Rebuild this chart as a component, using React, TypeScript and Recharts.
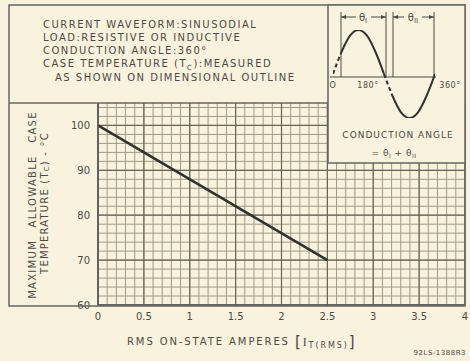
import React from 'react';
import { LineChart, Line, XAxis, YAxis, ReferenceLine } from 'recharts';

// main derating curve
const amps = [0, 2.5];
const caseTemp = [100, 70];

const xTicks = [0, 0.5, 1, 1.5, 2, 2.5, 3, 3.5, 4];
const xTickLabels = ['0', '0.5', '1', '1.5', '2', '2.5', '3', '3.5', '4'];
const yTicks = [60, 70, 80, 90, 100];

// graph paper lines
const minorX = Array.from({ length: 41 }, (_, i) => Math.round(i * 10) / 100);
const minorY = Array.from({ length: 23 }, (_, i) => 60 + i * 2);

// inset waveform sketch
const angles = [0, 15, 30, 60, 90, 120, 150, 180, 195, 210, 240, 270, 300, 330, 360];
const waveSolid = [null, null, 0.5, 0.87, 1, 0.87, 0.5, 0, null, -0.5, -0.87, -1, -0.87, -0.5, 0];
const waveDashed = [0, 0.26, 0.5, null, null, null, null, 0, -0.26, -0.5, null, null, null, null, null];

const data = amps.map((a, i) => ({ amps: a, temp: caseTemp[i] }));
const waveData = angles.map((a, i) => ({ angle: a, solid: waveSolid[i], dashed: waveDashed[i] }));

const PAPER = '#f9f2de';
const INK = '#4d4a42';
const FONT = '"DejaVu Sans", sans-serif';

export default function App() {
  const txt = { fontFamily: FONT, fontSize: 10, fill: INK, letterSpacing: 1.5 } as const;
  return (
    <div style={{ position: 'absolute', left: 0, top: 0, width: 470, height: 361, background: PAPER }}>
      <div style={{ position: 'absolute', left: 0, top: 0 }}>
        <LineChart width={470} height={361} data={data} margin={{ top: 103, right: 5, left: 68, bottom: 36 }}>
          <XAxis
            dataKey="amps"
            type="number"
            domain={[0, 4]}
            ticks={xTicks}
            tickFormatter={(v: number) => xTickLabels[xTicks.indexOf(v)]}
            tickLine={false}
            axisLine={{ stroke: '#555', strokeWidth: 1.5 }}
            tick={{ fontFamily: FONT, fontSize: 10, fill: INK }}
            height={20}
          />
          <YAxis
            type="number"
            domain={[60, 105]}
            ticks={yTicks}
            tickLine={false}
            axisLine={{ stroke: '#555', strokeWidth: 1.5 }}
            tick={{ fontFamily: FONT, fontSize: 10, fill: INK }}
            width={30}
          />
          {minorX.map((v) => (
            <ReferenceLine key={'mx' + v} x={v} stroke="#a39a86" strokeWidth={1} />
          ))}
          {minorY.map((v) => (
            <ReferenceLine key={'my' + v} y={v} stroke="#a39a86" strokeWidth={1} />
          ))}
          {xTicks.map((v) => (
            <ReferenceLine key={'MX' + v} x={v} stroke="#6b6558" strokeWidth={1.2} />
          ))}
          {yTicks.map((v) => (
            <ReferenceLine key={'MY' + v} y={v} stroke="#6b6558" strokeWidth={1.2} />
          ))}
          <Line dataKey="temp" stroke="#33312c" strokeWidth={2.5} dot={false} isAnimationActive={false} />
        </LineChart>
      </div>

      <svg width={470} height={361} style={{ position: 'absolute', left: 0, top: 0 }}>
        <rect x={9} y={5} width={456} height={301} fill="none" stroke="#666" strokeWidth={1.5} />
        <line x1={9} y1={103} x2={328} y2={103} stroke="#666" strokeWidth={1.5} />
        <rect x={328} y={5} width={137} height={158} fill={PAPER} stroke="#666" strokeWidth={1.5} />

        <text {...txt} x={43} y={28}>CURRENT WAVEFORM:SINUSODIAL</text>
        <text {...txt} x={43} y={41}>LOAD:RESISTIVE OR INDUCTIVE</text>
        <text {...txt} x={43} y={54}>CONDUCTION ANGLE:360°</text>
        <text {...txt} x={43} y={67}>
          CASE TEMPERATURE (T<tspan fontSize={7} dy={3}>C</tspan><tspan dy={-3}>):MEASURED</tspan>
        </text>
        <text {...txt} x={55} y={81}>AS SHOWN ON DIMENSIONAL OUTLINE</text>

        <text {...txt} transform="rotate(-90 32 205)" x={32} y={205} textAnchor="middle" dominantBaseline="central" wordSpacing={8} letterSpacing={1.3}>
          MAXIMUM ALLOWABLE CASE
        </text>
        <text {...txt} transform="rotate(-90 44 203)" x={44} y={203} textAnchor="middle" dominantBaseline="central" letterSpacing={1.2}>
          TEMPERATURE (T<tspan fontSize={7} dy={3}>C</tspan><tspan dy={-3}>) - °C</tspan>
        </text>

        <text {...txt} x={127} y={345} letterSpacing={1.9}>
          RMS ON-STATE AMPERES <tspan fontSize={15} dy={2}>[</tspan><tspan fontFamily="Liberation Serif" fontSize={12} dy={-1}>I</tspan>
          <tspan fontSize={8} dy={2}>T(RMS)</tspan><tspan fontSize={15} dy={-1}>]</tspan>
        </text>
        <text {...txt} x={466} y={355} fontSize={7} textAnchor="end" letterSpacing={0.5}>92LS-1388R3</text>

        {/* inset markers */}
        <line x1={341} y1={12} x2={341} y2={77} stroke={INK} />
        <line x1={386} y1={12} x2={386} y2={77} stroke={INK} />
        <line x1={393} y1={12} x2={393} y2={77} stroke={INK} />
        <line x1={434} y1={12} x2={434} y2={77} stroke={INK} />
        <line x1={341} y1={17} x2={356} y2={17} stroke={INK} />
        <line x1={371} y1={17} x2={386} y2={17} stroke={INK} />
        <line x1={393} y1={17} x2={404} y2={17} stroke={INK} />
        <line x1={422} y1={17} x2={434} y2={17} stroke={INK} />
        <path d="M341 17 l5 -2 v4 z M386 17 l-5 -2 v4 z M393 17 l5 -2 v4 z M434 17 l-5 -2 v4 z" fill={INK} />
        <text {...txt} x={363} y={21} textAnchor="middle" letterSpacing={0}>θ<tspan fontSize={7} dy={2}>I</tspan></text>
        <text {...txt} x={413} y={21} textAnchor="middle" letterSpacing={0}>θ<tspan fontSize={7} dy={2}>II</tspan></text>
        <line x1={330} y1={77} x2={436} y2={77} stroke={INK} strokeWidth={1.2} />
        <text {...txt} x={333} y={88} fontSize={8} textAnchor="middle" letterSpacing={0.5}>O</text>
        <text {...txt} x={368} y={88} fontSize={8} textAnchor="middle" letterSpacing={0.5}>180°</text>
        <text {...txt} x={450} y={88} fontSize={8} textAnchor="middle" letterSpacing={0.5}>360°</text>
        <text {...txt} x={398} y={138} fontSize={9} textAnchor="middle" letterSpacing={1}>CONDUCTION ANGLE</text>
        <text {...txt} x={394} y={156} fontSize={9} textAnchor="middle" letterSpacing={0.5}>
          = θ<tspan fontSize={6} dy={2}>I</tspan><tspan dy={-2}> + θ</tspan><tspan fontSize={6} dy={2}>II</tspan>
        </text>
      </svg>

      <div style={{ position: 'absolute', left: 333, top: 30 }}>
        <LineChart width={102} height={88} data={waveData} margin={{ top: 0, right: 0, left: 0, bottom: 0 }}>
          <XAxis dataKey="angle" type="number" domain={[0, 360]} hide />
          <YAxis type="number" domain={[-1, 1]} hide />
          <Line dataKey="solid" type="monotone" stroke="#33312c" strokeWidth={2} dot={false} connectNulls={false} isAnimationActive={false} />
          <Line dataKey="dashed" type="monotone" stroke="#33312c" strokeWidth={2} strokeDasharray="4 3" dot={false} connectNulls={false} isAnimationActive={false} />
        </LineChart>
      </div>
    </div>
  );
}
